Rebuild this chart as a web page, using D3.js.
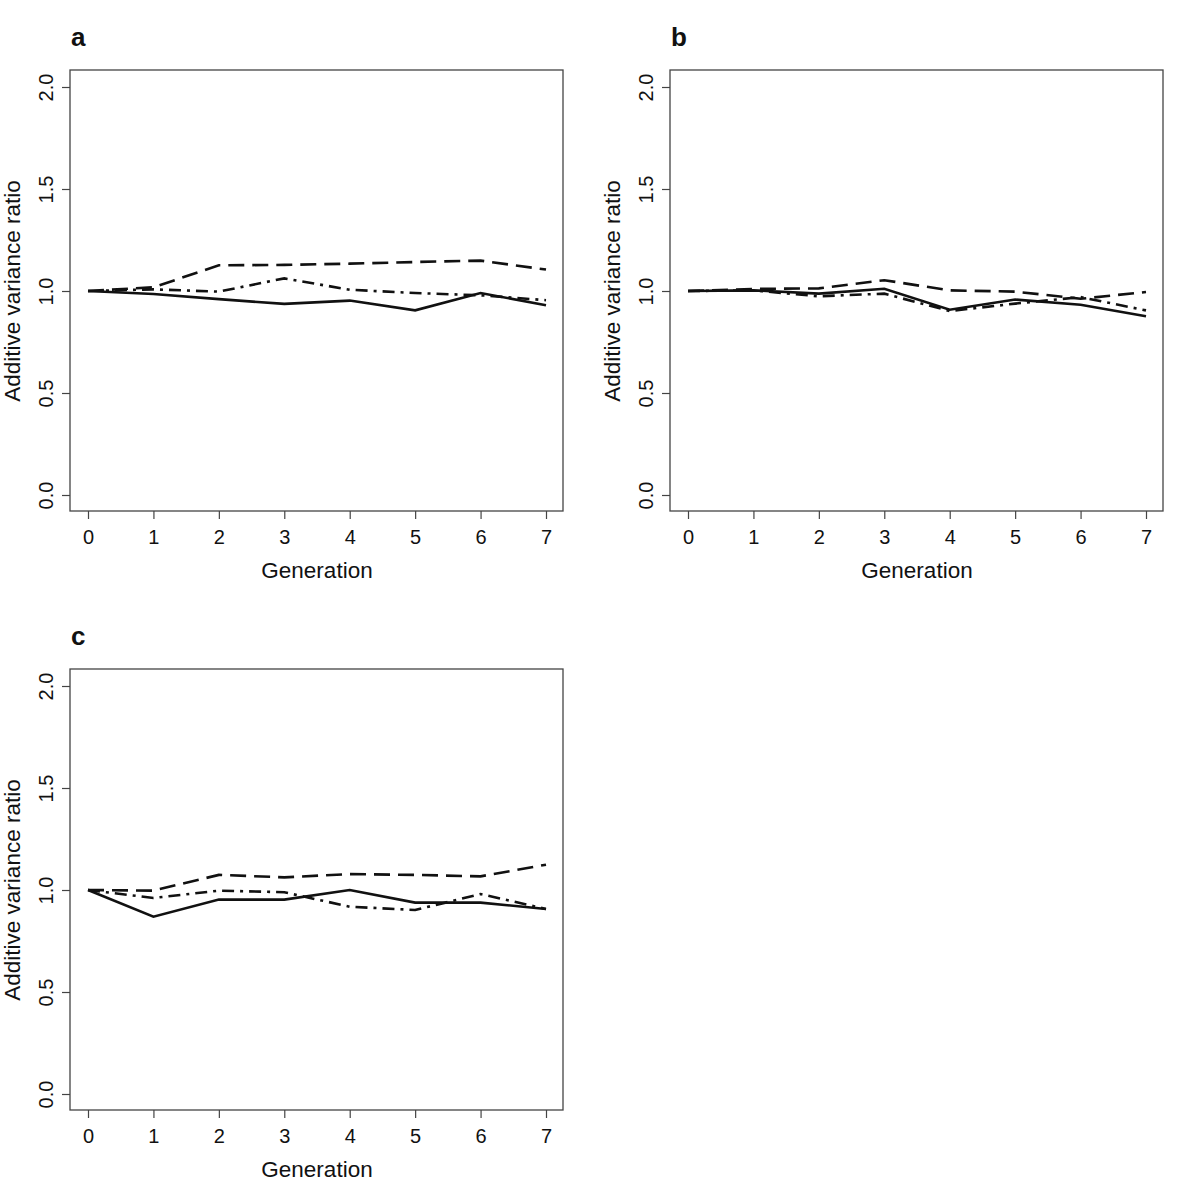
<!DOCTYPE html>
<html><head><meta charset="utf-8">
<script src="https://cdn.jsdelivr.net/npm/d3@7"></script>
<style>body{margin:0;background:#fff}svg{display:block}text{font-family:"Liberation Sans",Arial,sans-serif}</style>
</head><body>
<svg id="c" width="1200" height="1200"></svg>
<script>
const generations = [0,1,2,3,4,5,6,7];
const yTicks = [0.0,0.5,1.0,1.5,2.0];
const panelLabels = ["a","b","c"];
const aSolid   = [1.0,0.985,0.96,0.937,0.953,0.905,0.99,0.93];
const aDashed  = [1.0,1.018,1.126,1.128,1.134,1.142,1.149,1.105];
const aDotDash = [1.0,1.008,0.997,1.062,1.006,0.99,0.979,0.955];
const bSolid   = [1.0,1.003,0.987,1.011,0.908,0.958,0.933,0.876];
const bDashed  = [1.0,1.01,1.013,1.053,1.003,0.997,0.962,0.995];
const bDotDash = [1.0,1.003,0.974,0.987,0.902,0.938,0.97,0.905];
const cSolid   = [1.0,0.869,0.953,0.953,1.0,0.938,0.938,0.907];
const cDashed  = [1.0,0.997,1.074,1.062,1.078,1.074,1.067,1.124];
const cDotDash = [1.0,0.961,0.997,0.989,0.918,0.902,0.98,0.907];

const panels = [
  {label:panelLabels[0], x0:70, y0:70, series:[aSolid,aDashed,aDotDash]},
  {label:panelLabels[1], x0:670, y0:70, series:[bSolid,bDashed,bDotDash]},
  {label:panelLabels[2], x0:70, y0:669, series:[cSolid,cDashed,cDotDash]}
];
const styles = [null, "16,8", "12,6,3,6"];
const W = 493, H = 441;
const svg = d3.select("#c");

panels.forEach(p => {
  const g = svg.append("g").attr("transform", `translate(${p.x0},${p.y0})`);
  const x = d3.scaleLinear().domain([0,7]).range([18, 476]);
  const y = d3.scaleLinear().domain([0,2]).range([425, 17]);
  g.append("rect").attr("x",0).attr("y",0).attr("width",W).attr("height",H)
    .attr("fill","none").attr("stroke","#444").attr("stroke-width",1.3);
  const xa = g.append("g").attr("transform",`translate(0,${H})`)
    .call(d3.axisBottom(x).tickValues(generations).tickFormat(d3.format("d")).tickSize(8).tickPadding(11));
  xa.select(".domain").remove();
  xa.selectAll("line").attr("stroke","#444").attr("stroke-width",1.2);
  xa.selectAll("text").attr("font-size",20).attr("fill","#111");
  const ya = g.append("g")
    .call(d3.axisLeft(y).tickValues(yTicks).tickFormat(d3.format(".1f")).tickSize(8).tickPadding(0));
  ya.select(".domain").remove();
  ya.selectAll("line").attr("stroke","#444").attr("stroke-width",1.2);
  ya.selectAll("text").attr("font-size",20).attr("fill","#111")
    .attr("text-anchor","middle").attr("dy",null).attr("x",null)
    .attr("transform","translate(-17,0) rotate(-90)");
  g.append("text").attr("x",x(3.5)).attr("y",H+67).attr("text-anchor","middle")
    .attr("font-size",22.5).attr("fill","#111").text("Generation");
  g.append("text").attr("transform",`translate(${-50},${y(1)}) rotate(-90)`)
    .attr("text-anchor","middle").attr("font-size",22.5).attr("fill","#111").text("Additive variance ratio");
  g.append("text").attr("x",1).attr("y",-24).attr("font-size",26).attr("font-weight","bold")
    .attr("fill","#111").text(p.label);
  const line = d3.line().x((d,i)=>x(generations[i])).y(d=>y(d));
  p.series.forEach((s,k) => {
    g.append("path").datum(s).attr("d",line).attr("fill","none")
      .attr("stroke","#111").attr("stroke-width",2.6)
      .attr("stroke-dasharray",styles[k]);
  });
});
</script>
</body></html>
